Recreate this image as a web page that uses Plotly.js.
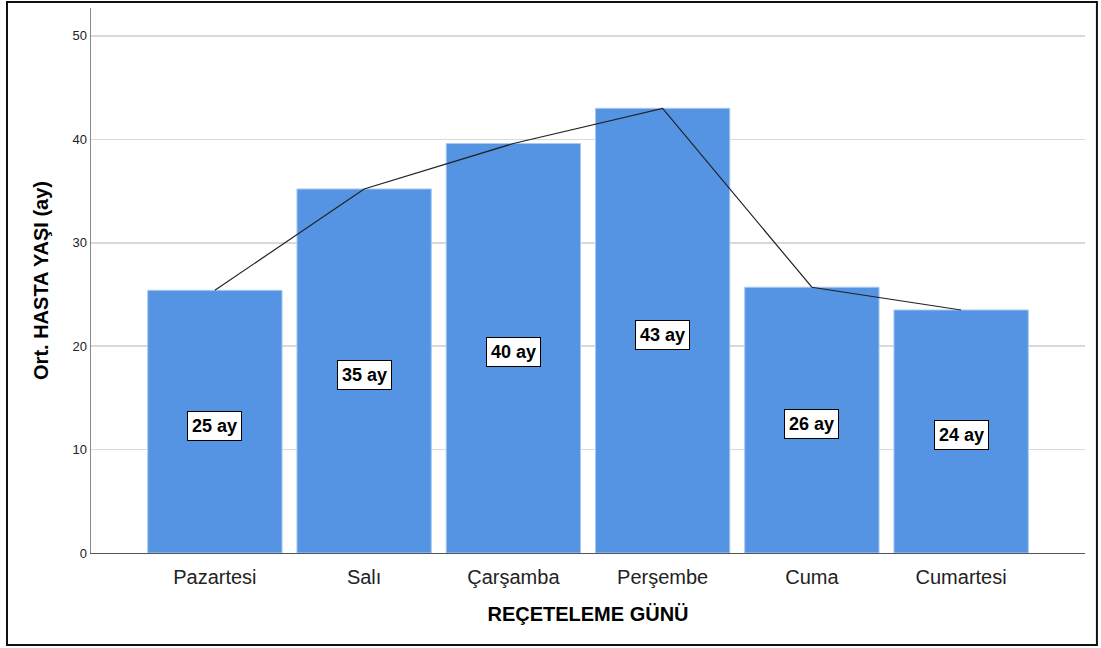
<!DOCTYPE html>
<html>
<head>
<meta charset="utf-8">
<script src="https://cdn.plot.ly/plotly-3.0.1.min.js"></script>
<style>
html,body{margin:0;padding:0;background:#fff;}
#chart{width:1101px;height:648px;}
</style>
</head>
<body>
<div id="chart"></div>
<script>
const days = ["Pazartesi", "Salı", "Çarşamba", "Perşembe", "Cuma", "Cumartesi"];
const meanAge = [25.4, 35.2, 39.6, 43.0, 25.7, 23.5];
const labels = ["25 ay", "35 ay", "40 ay", "43 ay", "26 ay", "24 ay"];
const yTicks = [0, 10, 20, 30, 40, 50];

const bars = {
  type: "bar",
  x: days,
  y: meanAge,
  width: 0.9,
  marker: {color: "#5594e3", line: {color: "#a9c9f2", width: 1}},
  hoverinfo: "skip"
};
const line = {
  type: "scatter",
  mode: "lines",
  x: days,
  y: meanAge,
  line: {color: "#222222", width: 1.2},
  hoverinfo: "skip"
};

const annotations = days.map((d, i) => ({
  x: d, y: meanAge[i] / 2, xref: "x", yref: "y",
  yshift: -4,
  text: "<b>" + labels[i] + "</b>",
  showarrow: false,
  font: {family: "Liberation Sans, Arial, sans-serif", size: 18, color: "#000"},
  bgcolor: "#ffffff", bordercolor: "#000000", borderwidth: 1, borderpad: 4
}));

const layout = {
  width: 1101, height: 648,
  margin: {l: 91, r: 16, t: 8, b: 95},
  paper_bgcolor: "#ffffff", plot_bgcolor: "#ffffff",
  showlegend: false,
  bargap: 0.1,
  font: {family: "Liberation Sans, Arial, sans-serif", color: "#222"},
  xaxis: {
    type: "category",
    range: [-0.83, 5.83],
    showgrid: false,
    showline: true, linecolor: "#555555", linewidth: 1,
    ticks: "",
    ticklabelstandoff: 6,
    tickfont: {size: 20, color: "#222"},
    title: {text: "<b>REÇETELEME GÜNÜ</b>", font: {size: 20, color: "#000"}, standoff: 19},
    zeroline: false
  },
  yaxis: {
    range: [0, 52.7],
    tickvals: yTicks,
    ticktext: yTicks.map(String),
    showgrid: true, gridcolor: "#d9d9d9", gridwidth: 1.5,
    showline: true, linecolor: "#888888", linewidth: 1.5,
    ticks: "", ticklen: 0,
    tickfont: {size: 13, color: "#222"},
    title: {text: "<b>Ort. HASTA YAŞI (ay)</b>", font: {size: 20, color: "#000"}, standoff: 18},
    zeroline: false
  },
  annotations: annotations,
  shapes: [{
    type: "rect", xref: "paper", yref: "paper",
    x0: -0.0845, x1: 1.012, y0: -0.169, y1: 1.011,
    line: {color: "#111111", width: 2}, fillcolor: "rgba(0,0,0,0)", layer: "above"
  }]
};

Plotly.newPlot("chart", [bars, line], layout, {staticPlot: true, displayModeBar: false});
</script>
</body>
</html>
